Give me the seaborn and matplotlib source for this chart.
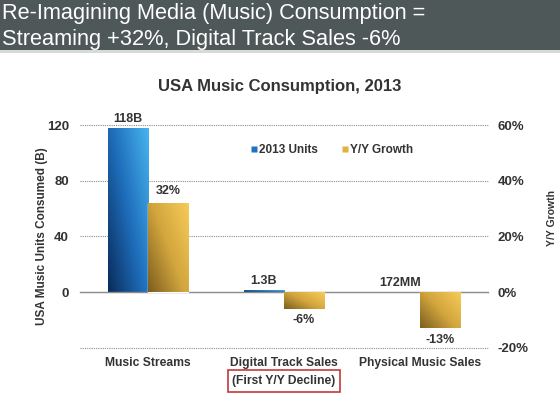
import numpy as np
import pandas as pd
import matplotlib
matplotlib.use("Agg")
import matplotlib.pyplot as plt
import matplotlib.colors as mcolors
from matplotlib.patches import Rectangle
from matplotlib.lines import Line2D
import seaborn as sns

categories = ["Music Streams", "Digital Track Sales", "Physical Music Sales"]
units_b = [118, 1.3, 0.172]
unit_labels = ["118B", "1.3B", "172MM"]
growth_pct = [32, -6, -13]
growth_labels = ["32%", "-6%", "-13%"]
series = ["2013 Units", "Y/Y Growth"]
left_ticks = [0, 40, 80, 120]
right_ticks = [-20, 0, 20, 40, 60]

sns.set_theme(style="white")
plt.rcParams["font.family"] = ["Liberation Sans", "DejaVu Sans"]
TXT = "#333333"

df_u = pd.DataFrame({"cat": categories, "val": units_b, "series": series[0]})
df_g = pd.DataFrame({"cat": categories, "val": growth_pct, "series": series[1]})

fig = plt.figure(figsize=(5.6, 3.94), dpi=100)
fig.patch.set_facecolor("white")
# header band
fig.patches.append(Rectangle((0, 1 - 50 / 394), 1, 50 / 394, transform=fig.transFigure,
                             facecolor="#4e5858", edgecolor="none", zorder=0))
fig.patches.append(Rectangle((0, 1 - 53 / 394), 1, 3 / 394, transform=fig.transFigure,
                             facecolor="#d9d9d9", edgecolor="none", zorder=0))
fig.text(0.004, 1 - 14 / 394, "Re-Imagining Media (Music) Consumption =", color="white",
         fontsize=15.7, va="center", ha="left")
fig.text(0.004, 1 - 39 / 394, "Streaming +32%, Digital Track Sales -6%", color="white",
         fontsize=15.7, va="center", ha="left")

ax = fig.add_axes([80 / 560, 1 - 347.7 / 394, 408 / 560, 222.7 / 394])
ax2 = ax.twinx()

pal = {series[0]: "#1f74c0", series[1]: "#e0b040"}
sns.barplot(data=df_u, x="cat", y="val", hue="series", hue_order=series, palette=pal,
            width=0.59, dodge=True, ax=ax, legend=False, errorbar=None, zorder=3)
sns.barplot(data=df_g, x="cat", y="val", hue="series", hue_order=series, palette=pal,
            width=0.59, dodge=True, ax=ax2, legend=False, errorbar=None, zorder=3)

ax.set_ylim(-40, 120)
ax2.set_ylim(-20, 60)
ax.set_xlim(-0.5, 2.5)

# gradients
blue_cmap = mcolors.LinearSegmentedColormap.from_list("b", ["#0a2c5c", "#1f6fbc", "#48b4ee"])
gold_cmap = mcolors.LinearSegmentedColormap.from_list("g", ["#7d5e1e", "#d3a63e", "#f7cb58"])
gx, gy = np.meshgrid(np.linspace(0, 1, 40), np.linspace(0, 1, 80))
grad = (gx * 0.55 + gy * 0.45)
for a, cmap in ((ax, blue_cmap), (ax2, gold_cmap)):
    for p in list(a.patches):
        x0, y0 = p.get_x(), p.get_y()
        w, h = p.get_width(), p.get_height()
        if w == 0 or h == 0:
            continue
        ylo, yhi = min(y0, y0 + h), max(y0, y0 + h)
        img = a.imshow(grad, cmap=cmap, extent=(x0, x0 + w, ylo, yhi), origin="lower",
                       aspect="auto", zorder=3.5, interpolation="bilinear")
        img.set_clip_path(p)
ax.set_xlim(-0.5, 2.5)
ax.set_ylim(-40, 120)
ax2.set_ylim(-20, 60)

# value labels
ax.bar_label(ax.containers[0], labels=unit_labels, padding=2, fontsize=9,
             fontweight="bold", color=TXT, zorder=5)
ax2.bar_label(ax2.containers[1], labels=growth_labels, padding=4, fontsize=9,
              fontweight="bold", color=TXT, zorder=5)

# axes styling
for s in ["left", "right", "top"]:
    ax.spines[s].set_visible(False)
    ax2.spines[s].set_visible(False)
ax2.spines["bottom"].set_visible(False)
ax.spines["bottom"].set_position(("data", 0))
ax.spines["bottom"].set_color("#8c8c8c")
ax.spines["bottom"].set_linewidth(1.0)
ax.spines["bottom"].set_zorder(4)

ax.set_yticks([-40] + left_ticks)
ax.set_yticklabels([""] + [str(t) for t in left_ticks])
ax.yaxis.grid(True, linestyle=(0, (1, 1)), color="#8c8c8c", linewidth=0.8)
for gl in ax.get_ygridlines():
    gl.set_clip_on(False)
ax.set_axisbelow(True)
ax.tick_params(axis="y", length=0, pad=8, labelsize=9.5, labelcolor=TXT)
for t in ax.get_yticklabels():
    t.set_fontweight("bold")
ax2.set_yticks(right_ticks)
ax2.set_yticklabels([f"{t}%" for t in right_ticks])
ax2.tick_params(axis="y", length=0, pad=7, labelsize=9.5, labelcolor=TXT)
for t in ax2.get_yticklabels():
    t.set_fontweight("bold")
ax2.grid(False)

ax.set_xticks([0, 1, 2])
ax.set_xticklabels(categories)
ax.tick_params(axis="x", which="major", length=0, pad=47, labelsize=8.7, labelcolor=TXT)
for t in ax.get_xticklabels():
    t.set_fontweight("bold")
ax.set_xticks([-0.5, 0.5, 1.5, 2.5], minor=True)
ax.tick_params(axis="x", which="minor", length=3.5, width=0.8, color="#8c8c8c", direction="out")
ax.set_xlabel("")

ax.set_ylabel("USA Music Units Consumed (B)", fontsize=8.5, fontweight="bold", color=TXT)
ax.yaxis.set_label_coords(-0.093, 0.5)
ax.yaxis.label.set_horizontalalignment("center")
ax.yaxis.label.set_verticalalignment("center")
ax2.set_ylabel("Y/Y Growth", fontsize=7.5, fontweight="bold", color=TXT, rotation=90)
ax2.yaxis.set_label_coords(1.157, 0.582)
ax2.yaxis.label.set_horizontalalignment("center")
ax2.yaxis.label.set_verticalalignment("center")

ax.text(1, -0.15, "(First Y/Y Decline)", transform=ax.get_xaxis_transform(),
        ha="center", va="center", fontsize=8.7, fontweight="bold", color=TXT,
        bbox=dict(boxstyle="square,pad=0.4", facecolor="white", edgecolor="#c0393b",
                  linewidth=1.2), clip_on=False)

fig.text(0.5, 1 - 87 / 394, "USA Music Consumption, 2013", ha="center", va="center",
         fontsize=12, fontweight="bold", color=TXT)

handles = [Line2D([], [], marker="s", linestyle="none", markersize=5,
                  markerfacecolor=pal[s], markeredgecolor="none") for s in series]
fig.legend(handles, series, loc="center", bbox_to_anchor=(0.590, 1 - 150 / 394), ncol=2,
           frameon=False, handletextpad=-0.05, columnspacing=1.75, handlelength=1.0,
           prop={"weight": "bold", "size": 8.5}, labelcolor=TXT)

fig.savefig("out.png", dpi=100)
